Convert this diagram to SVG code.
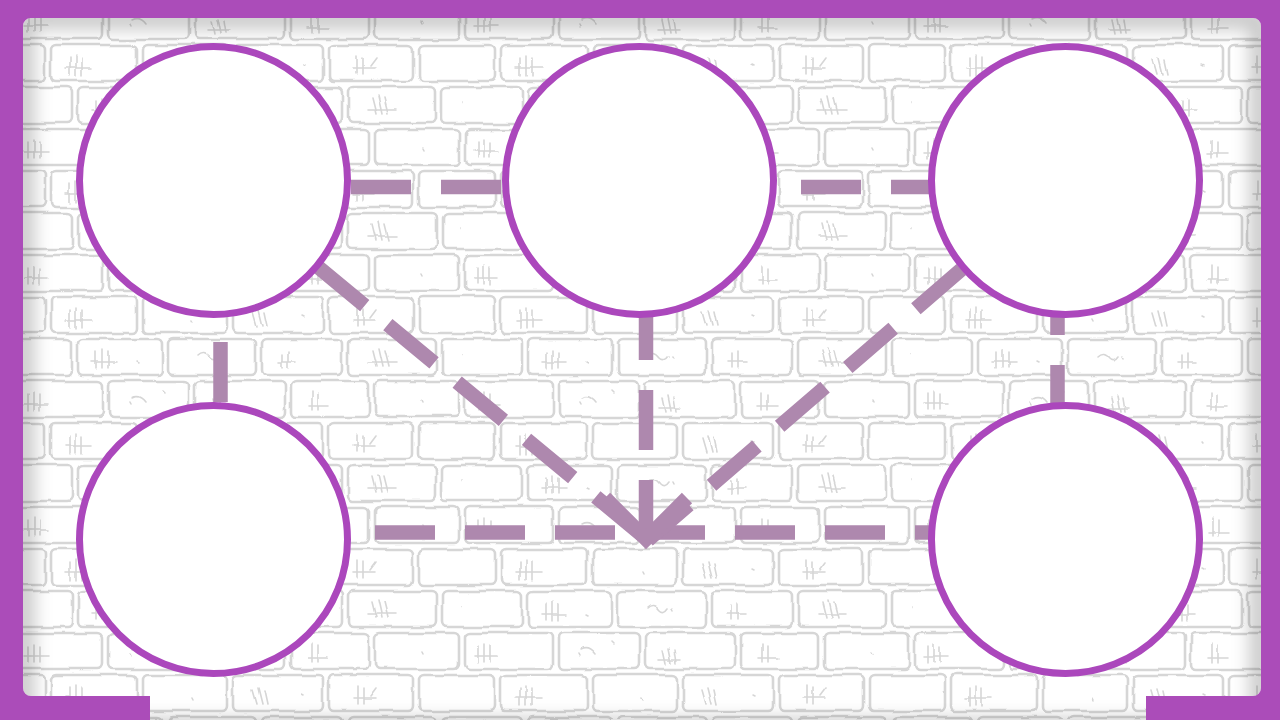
<svg xmlns="http://www.w3.org/2000/svg" width="1280" height="720" viewBox="0 0 1280 720">
  <style>
    .node { fill: #ffffff; stroke: #ab47bc; stroke-width: 7; }
    .conn { fill: none; stroke: #ae88ae; stroke-width: 14.5; stroke-dasharray: 60 30; stroke-linecap: butt; }
    .brick { fill: none; stroke: #d6d6d6; stroke-width: 2.6; stroke-linejoin: round; }
    .hatch { fill: none; stroke: #d6d6d6; stroke-width: 1.6; stroke-linecap: round; }
  </style>
  <defs>
    <pattern id="bricks" width="450" height="126" patternUnits="userSpaceOnUse" x="12" y="0">
      <g class="brick">
        <rect x="3" y="3" width="88" height="36" rx="5"/>
        <rect x="97" y="3" width="80" height="36" rx="5"/>
        <rect x="183" y="3" width="90" height="36" rx="5"/>
        <rect x="279" y="3" width="78" height="36" rx="5"/>
        <rect x="363" y="3" width="84" height="36" rx="5"/>
        <rect x="-43" y="45" width="76" height="36" rx="5"/>
        <rect x="39" y="45" width="86" height="36" rx="5"/>
        <rect x="131" y="45" width="84" height="36" rx="5"/>
        <rect x="221" y="45" width="90" height="36" rx="5"/>
        <rect x="317" y="45" width="84" height="36" rx="5"/>
        <rect x="407" y="45" width="76" height="36" rx="5"/>
        <rect x="-20" y="87" width="80" height="36" rx="5"/>
        <rect x="66" y="87" width="84" height="36" rx="5"/>
        <rect x="156" y="87" width="88" height="36" rx="5"/>
        <rect x="250" y="87" width="80" height="36" rx="5"/>
        <rect x="336" y="87" width="88" height="36" rx="5"/>
        <rect x="430" y="87" width="80" height="36" rx="5"/>
      </g>
      <g class="hatch">
        <path d="M16 16 v16 M22 14 v18 M28 16 v16 M12 26 h24"/>
        <path d="M200 20 l3 14 M206 18 l3 15 M212 20 l2 13 M196 30 h22"/>
        <path d="M300 14 v18 M306 16 v16 M296 28 h20"/>
        <path d="M58 58 v18 M64 56 v20 M70 58 v18 M54 68 h26"/>
        <path d="M240 60 l4 14 M246 58 l4 16 M252 60 l3 14"/>
        <path d="M345 56 v18 M351 58 v16 M341 68 h22 M358 66 l6 -8"/>
        <path d="M84 100 v16 M90 98 v18 M96 100 v16 M80 110 h24"/>
        <path d="M270 102 v14 M276 100 v16 M266 110 h18"/>
        <path d="M360 98 l4 16 M366 96 l4 18 M372 98 l4 16 M356 110 h28"/>
        <path d="M150 12 l2 2 M118 24 l1 2 M410 22 l1 2 M180 68 l1 2 M290 64 l2 1 M210 104 l1 2 M124 110 l2 1 M450 102 l1 2"/>
        <path d="M120 20 q8 -4 14 4 M186 104 q6 -6 12 2 q4 4 8 -2"/>
      </g>
    </pattern>
    <filter id="rough" x="0" y="0" width="1" height="1">
      <feTurbulence type="fractalNoise" baseFrequency="0.035" numOctaves="2" seed="3" result="n"/>
      <feDisplacementMap in="SourceGraphic" in2="n" scale="5" xChannelSelector="R" yChannelSelector="G"/>
    </filter>
    <filter id="blur" x="-10%" y="-10%" width="120%" height="120%">
      <feGaussianBlur stdDeviation="9"/>
    </filter>
    <clipPath id="panelClip">
      <path d="M31 18 H1253 A8 8 0 0 1 1261 26 V688 A8 8 0 0 1 1253 696 H1146 V720 H150 V696 H31 A8 8 0 0 1 23 688 V26 A8 8 0 0 1 31 18 Z"/>
    </clipPath>
    <marker id="chev" markerUnits="userSpaceOnUse" viewBox="-70 -70 140 140" markerWidth="140" markerHeight="140" refX="0" refY="0" orient="auto" overflow="visible">
      <path d="M-41 -41 L0 0 L-41 41" fill="none" stroke="#ae88ae" stroke-width="14.5" stroke-linejoin="miter"/>
    </marker>
  </defs>

  <!-- background -->
  <rect x="0" y="0" width="1280" height="720" fill="#ffffff"/>
  <rect x="0" y="0" width="1280" height="720" fill="url(#bricks)" filter="url(#rough)"/>
  <g clip-path="url(#panelClip)">
    <rect x="23" y="18" width="1238" height="712" rx="8" fill="none" stroke="#000000" stroke-opacity="0.22" stroke-width="22" filter="url(#blur)"/>
  </g>
  <!-- frame -->
  <path fill="#ab4cb9" fill-rule="evenodd" d="M0 0 H1280 V720 H0 Z M31 18 H1253 A8 8 0 0 1 1261 26 V688 A8 8 0 0 1 1253 696 H1146 V720 H150 V696 H31 A8 8 0 0 1 23 688 V26 A8 8 0 0 1 31 18 Z"/>

  <g id="connectors">
    <line class="conn" x1="351" y1="187" x2="502" y2="187"/>
    <line class="conn" x1="801" y1="187" x2="930" y2="187"/>
    <line class="conn" x1="375" y1="532.5" x2="930" y2="532.5"/>
    <line class="conn" x1="220.5" y1="342" x2="220.5" y2="404"/>
    <line class="conn" x1="1057.5" y1="275" x2="1057.5" y2="420"/>
    <line class="conn" x1="318.5" y1="267.3" x2="648" y2="540"/>
    <line class="conn" x1="961.3" y1="269.5" x2="648" y2="540"/>
    <line class="conn" x1="646" y1="300" x2="646" y2="539" marker-end="url(#chev)"/>
  </g>

  <g id="node-top-left"><circle class="node" cx="213.5" cy="180.5" r="134"/></g>
  <g id="node-top-middle"><circle class="node" cx="639.5" cy="180.5" r="134"/></g>
  <g id="node-top-right"><circle class="node" cx="1065.5" cy="180.5" r="134"/></g>
  <g id="node-bottom-left"><circle class="node" cx="213.5" cy="539.5" r="134"/></g>
  <g id="node-bottom-right"><circle class="node" cx="1065.5" cy="539.5" r="134"/></g>
</svg>
